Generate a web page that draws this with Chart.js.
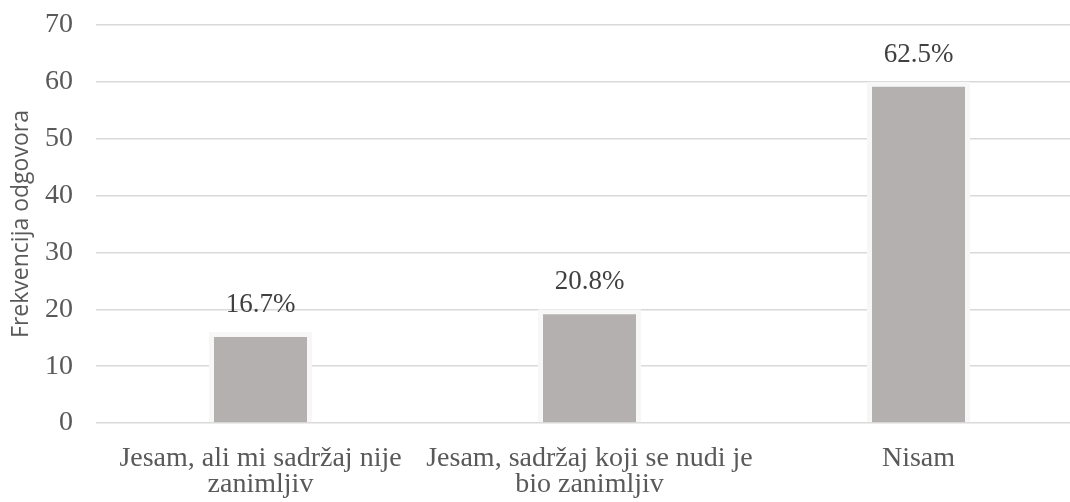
<!DOCTYPE html>
<html>
<head>
<meta charset="utf-8">
<script src="https://cdn.jsdelivr.net/npm/chart.js@4"></script>
<style>
    html, body { margin: 0; padding: 0; background: #fff; overflow: hidden; }
    #wrap { width: 1083px; height: 502px; }
</style>
</head>
<body>
<div id="wrap"><canvas id="chart" width="1083" height="502"></canvas></div>
<script>
    var categories = [
        ['Jesam, ali mi sadržaj nije', 'zanimljiv'],
        ['Jesam, sadržaj koji se nudi je', 'bio zanimljiv'],
        'Nisam'
    ];
    var counts = [16, 20, 60];
    var percentLabels = ['16.7%', '20.8%', '62.5%'];
    var yTicks = [0, 10, 20, 30, 40, 50, 60, 70];

    var textColor = '#595959';
    var serif = '"Liberation Serif", "Times New Roman", serif';

    // draws the percentage above each bar
    var valueLabels = {
        id: 'valueLabels',
        afterDatasetsDraw: function (chart) {
            var ctx = chart.ctx;
            var meta = chart.getDatasetMeta(0);
            ctx.save();
            ctx.font = '27px ' + serif;
            ctx.fillStyle = '#404040';
            ctx.textAlign = 'center';
            ctx.textBaseline = 'middle';
            meta.data.forEach(function (bar, i) {
                ctx.fillText(percentLabels[i], bar.x, bar.y - 27);
            });
            ctx.restore();
        }
    };

    new Chart(document.getElementById('chart'), {
        type: 'bar',
        data: {
            labels: categories,
            datasets: [{
                data: counts,
                backgroundColor: '#b4b0af',
                borderColor: '#f7f7f7',
                borderWidth: 5,
                categoryPercentage: 1,
                barPercentage: 0.313
            }]
        },
        options: {
            responsive: false,
            animation: false,
            layout: { padding: { top: 25, left: 8, right: 0, bottom: 0 } },
            plugins: {
                legend: { display: false },
                tooltip: { enabled: false }
            },
            scales: {
                x: {
                    grid: { display: false },
                    border: { display: false },
                    afterFit: function (s) {
                        s.height = 79;
                        s.paddingLeft = 0;
                        s.paddingRight = 0;
                    },
                    ticks: {
                        color: textColor,
                        font: { family: serif, size: 28, lineHeight: 0.94 },
                        padding: 14,
                        maxRotation: 0,
                        autoSkip: false
                    }
                },
                y: {
                    min: 0,
                    max: 70,
                    afterBuildTicks: function (axis) {
                        axis.ticks = yTicks.map(function (v) { return { value: v }; });
                    },
                    afterFit: function (s) {
                        s.width = 88;
                        s.paddingTop = 0;
                        s.paddingBottom = 0;
                    },
                    grid: { color: '#d9d9d9', lineWidth: 1.5, drawTicks: false },
                    border: { display: false },
                    ticks: {
                        color: textColor,
                        font: { family: serif, size: 28 },
                        padding: 23
                    },
                    title: {
                        display: true,
                        text: 'Frekvencija odgovora',
                        color: textColor,
                        font: { family: '"Open Sans", "Noto Sans", sans-serif', size: 23 },
                        padding: { top: 0, bottom: 5 }
                    }
                }
            }
        },
        plugins: [valueLabels]
    });
</script>
</body>
</html>
